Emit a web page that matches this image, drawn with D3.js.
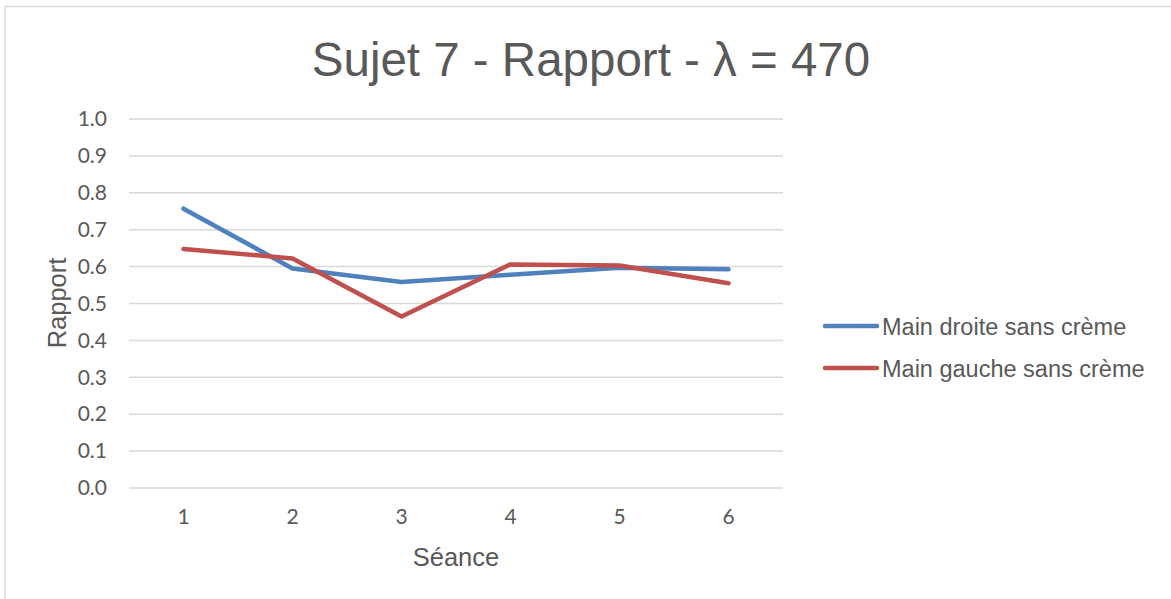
<!DOCTYPE html>
<html><head><meta charset="utf-8">
<script src="https://cdn.jsdelivr.net/npm/d3@7"></script>
<style>body{margin:0;background:#fff;} svg{display:block;}</style>
</head><body>
<svg id="chart" width="1171" height="599"></svg>
<script>
const categories = ["1","2","3","4","5","6"];
const seriesNames = ["Main droite sans crème","Main gauche sans crème"];
const mainDroite = [0.757, 0.595, 0.558, 0.578, 0.597, 0.593];
const mainGauche = [0.648, 0.622, 0.465, 0.606, 0.603, 0.555];
const yTicks = [0,0.1,0.2,0.3,0.4,0.5,0.6,0.7,0.8,0.9,1.0];
const colors = ["#4F81BD","#C0504D"];

const svg = d3.select("#chart");
svg.append("rect").attr("x",5).attr("y",6.5).attr("width",1200).attr("height",700)
  .attr("fill","#fff").attr("stroke","#d9d9d9").attr("stroke-width",1.5);

const x = d3.scaleBand().domain(categories).range([129,783]);
const y = d3.scaleLinear().domain([0,1]).range([488,119]);

svg.append("text").attr("x",591).attr("y",76).attr("text-anchor","middle")
  .attr("font-family","Liberation Sans, Arial, sans-serif").attr("font-size",47.5).attr("fill","#595959")
  .text("Sujet 7 - Rapport - λ = 470");

const yAxis = d3.axisLeft(y).tickValues(yTicks).tickFormat(d3.format(".1f")).tickSize(0).tickPadding(22);
const gy = svg.append("g").attr("transform","translate(129,0)").call(yAxis);
gy.select(".domain").remove();
gy.selectAll("text").attr("font-family","Lato, Carlito, sans-serif").attr("font-size",21).attr("fill","#595959");
svg.append("g").selectAll("line").data(yTicks).join("line")
  .attr("x1",129).attr("x2",783).attr("y1",d=>y(d)).attr("y2",d=>y(d))
  .attr("stroke","#d9d9d9").attr("stroke-width",1.5);

const xAxis = d3.axisBottom(x).tickSize(0).tickPadding(21);
const gx = svg.append("g").attr("transform","translate(0,488)").call(xAxis);
gx.select(".domain").remove();
gx.selectAll("text").attr("font-family","Lato, Carlito, sans-serif").attr("font-size",21).attr("fill","#595959");

svg.append("text").attr("x",456).attr("y",566).attr("text-anchor","middle")
  .attr("font-family","Liberation Sans, Arial, sans-serif").attr("font-size",25.5).attr("fill","#595959").text("Séance");
svg.append("text").attr("transform","translate(66,303) rotate(-90)").attr("text-anchor","middle")
  .attr("font-family","Liberation Sans, Arial, sans-serif").attr("font-size",25.5).attr("fill","#595959").text("Rapport");

const line = d3.line().x((d,i)=>x(categories[i])+x.bandwidth()/2).y(d=>y(d));
[mainDroite, mainGauche].forEach((s,i)=>{
  svg.append("path").datum(s).attr("d",line).attr("fill","none")
    .attr("stroke",colors[i]).attr("stroke-width",4.5).attr("stroke-linecap","round").attr("stroke-linejoin","round");
});

const leg = svg.append("g");
seriesNames.forEach((n,i)=>{
  const ly = 326 + i*42;
  leg.append("line").attr("x1",825).attr("x2",877).attr("y1",ly).attr("y2",ly)
    .attr("stroke",colors[i]).attr("stroke-width",4.5).attr("stroke-linecap","round");
  leg.append("text").attr("x",882).attr("y",ly+8.5).attr("font-family","Liberation Sans, Arial, sans-serif")
    .attr("font-size",23.5).attr("fill","#595959").text(n);
});
</script>
</body></html>
